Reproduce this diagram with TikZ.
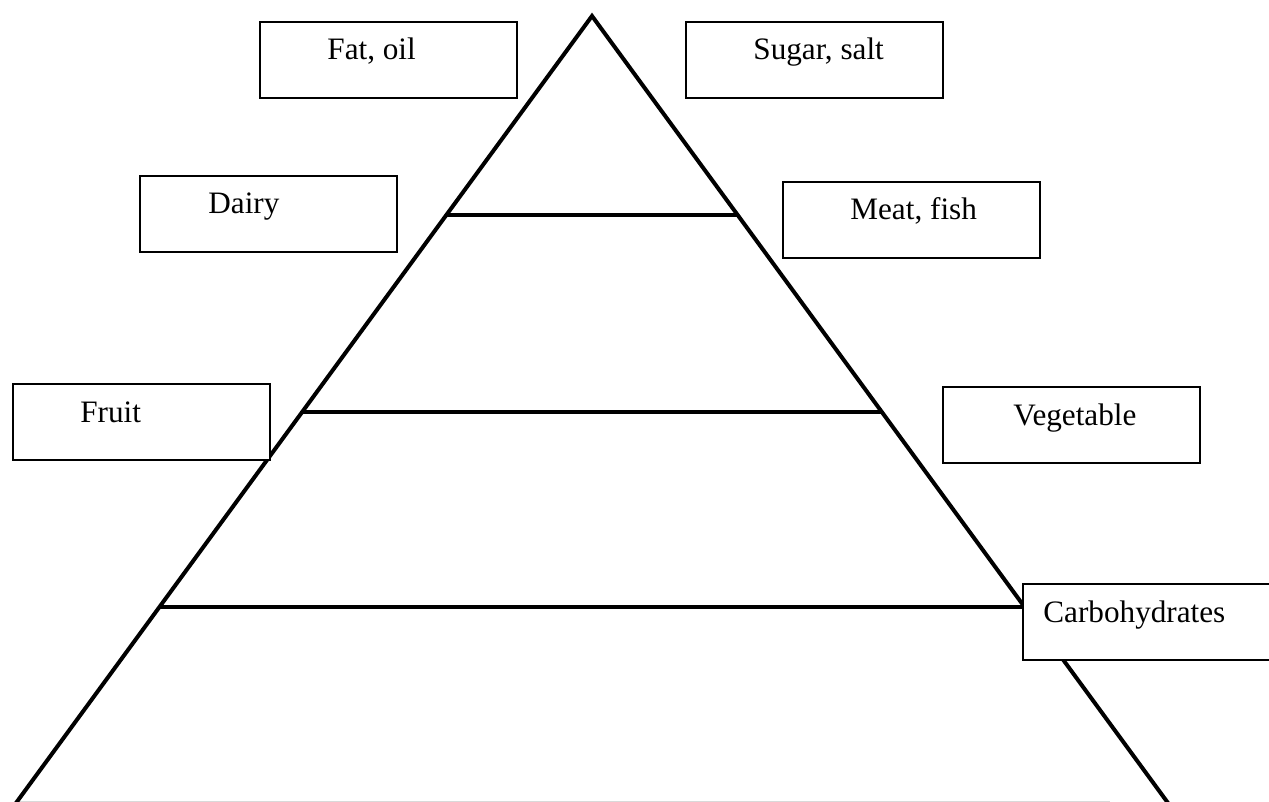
\documentclass[tikz,border=0pt]{standalone}
\usepackage{fontspec}
\setmainfont{Liberation Serif}
\usetikzlibrary{calc}
\tikzset{
  foodbox/.style={draw=black, line width=1pt, rectangle, minimum width=128.5pt, minimum height=38pt, inner sep=0pt, anchor=north west},
  foodtext/.style={anchor=base west, inner sep=0pt, font=\fontsize{15.6}{18}\selectfont},
  edge/.style={line width=2pt, line join=miter},
  tier/.style={line width=2pt}
}
\begin{document}
\begin{tikzpicture}[x=0.5pt,y=-0.5pt]
\useasboundingbox (0,0) rectangle (1269,802);
% pyramid
\coordinate (apex) at (592,16);
\coordinate (bl) at (16,803);
\coordinate (br) at (1168,803);
\draw[black!15, line width=0.6pt] (16,801.5) -- (1110,801.5);
\draw[edge] (bl) -- (apex) -- (br);
\coordinate (l1) at ($(apex)!0.2525!(bl)$);
\coordinate (r1) at ($(apex)!0.2525!(br)$);
\coordinate (l2) at ($(apex)!0.5038!(bl)$);
\coordinate (r2) at ($(apex)!0.5038!(br)$);
\coordinate (l3) at ($(apex)!0.7513!(bl)$);
\coordinate (r3) at ($(apex)!0.7513!(br)$);
\draw[tier] (l1) -- (r1);
\draw[tier] (l2) -- (r2);
\draw[tier] (l3) -- (r3);
% boxes
\node[foodbox, fill=white] (fatbox) at (259,21) {};
\node[foodtext] (fat) at ($(fatbox.north west)+(68,39)$) {Fat, oil};
\node[foodbox, fill=white] (sugarbox) at (685,21) {};
\node[foodtext] (sugar) at ($(sugarbox.north west)+(68,39)$) {Sugar, salt};
\node[foodbox, fill=white] (dairybox) at (139,175) {};
\node[foodtext] (dairy) at ($(dairybox.north west)+(69,39)$) {Dairy};
\node[foodbox, fill=white] (meatbox) at (782,181) {};
\node[foodtext] (meat) at ($(meatbox.north west)+(68,39)$) {Meat, fish};
\node[foodbox, fill=white] (fruitbox) at (12,383) {};
\node[foodtext] (fruit) at ($(fruitbox.north west)+(68,39)$) {Fruit};
\node[foodbox, fill=white] (vegbox) at (942,386) {};
\node[foodtext] (veg) at ($(vegbox.north west)+(71,39)$) {Vegetable};
\node[foodbox, fill=white] (carbbox) at (1022,583) {};
\node[foodtext] (carb) at ($(carbbox.north west)+(21,39)$) {Carbohydrates};
\end{tikzpicture}
\end{document}
